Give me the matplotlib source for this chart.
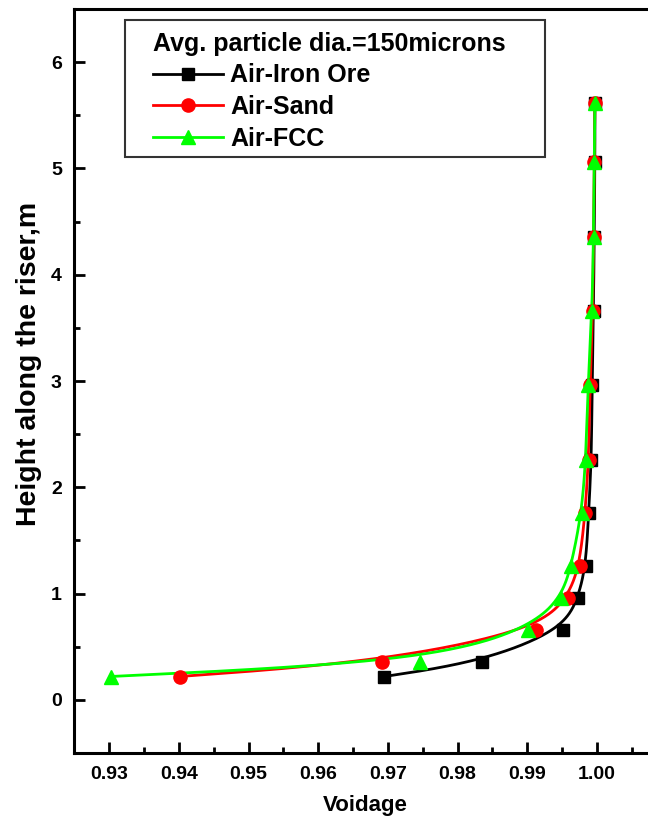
import matplotlib
matplotlib.use("Agg")
import matplotlib.pyplot as plt
from matplotlib.patches import Rectangle
from matplotlib.ticker import MultipleLocator
import numpy as np

plt.rcParams["font.family"] = ["Liberation Sans", "DejaVu Sans"]
plt.rcParams["font.weight"] = "bold"

# Height along the riser (m), shared by all three systems
height = [0.22, 0.36, 0.66, 0.96, 1.26, 1.76, 2.26, 2.96, 3.66, 4.36, 5.06, 5.62]

# Voidage profiles
iron_ore = [0.9695, 0.9835, 0.9951, 0.9973, 0.9984, 0.9988,
            0.9992, 0.9993, 0.9995, 0.9996, 0.9997, 0.9997]
sand = [0.9401, 0.9691, 0.9913, 0.9958, 0.9975, 0.9983,
        0.9988, 0.9990, 0.9994, 0.9995, 0.9996, 0.9997]
fcc = [0.9302, 0.9746, 0.9901, 0.9949, 0.9963, 0.9978,
       0.9984, 0.9987, 0.9993, 0.9995, 0.9996, 0.9997]

series = [
    ("Air-Iron Ore", iron_ore, "black", "s", 8.5),
    ("Air-Sand", sand, "#ff0000", "o", 9.5),
    ("Air-FCC", fcc, "#00ff00", "^", 10),
]


def bspline(xs, ys, n=40):
    """Uniform cubic B-spline through clamped control points."""
    P = np.column_stack([xs, ys])
    P = np.vstack([P[0], P[0], P, P[-1], P[-1]])
    M = np.array([[-1, 3, -3, 1],
                  [3, -6, 3, 0],
                  [-3, 0, 3, 0],
                  [1, 4, 1, 0]]) / 6.0
    t = np.linspace(0, 1, n)
    T = np.column_stack([t ** 3, t ** 2, t, np.ones_like(t)])
    segs = [T @ M @ P[i:i + 4] for i in range(len(P) - 3)]
    curve = np.vstack(segs)
    return curve[:, 0], curve[:, 1]


W, H = 648, 817
fig = plt.figure(figsize=(W / 100, H / 100), dpi=100)
ax = fig.add_axes([0.1147, 0.0783, 0.898, 0.9106])

for label, vals, color, marker, ms in series:
    cx, cy = bspline(vals, height)
    ax.plot(cx, cy, color=color, linewidth=2.0, zorder=2)
    ax.plot(vals, height, linestyle="none", marker=marker, color=color,
            markersize=ms, zorder=3)
    # legend proxy: line with marker
    ax.plot([], [], color=color, linewidth=2.0, marker=marker,
            markersize=ms, label=label)

ax.set_xlim(0.925, 1.0085)
ax.set_ylim(-0.5, 6.5)
ax.xaxis.set_major_locator(MultipleLocator(0.01))
ax.xaxis.set_minor_locator(MultipleLocator(0.005))
ax.yaxis.set_major_locator(MultipleLocator(1))
ax.yaxis.set_minor_locator(MultipleLocator(0.5))
ax.xaxis.set_major_formatter(plt.FormatStrFormatter("%.2f"))

ax.tick_params(which="both", direction="in", width=2.0, top=False, right=False)
ax.tick_params(which="major", length=8, labelsize=14, pad=9)
ax.tick_params(which="minor", length=4)
for s in ax.spines.values():
    s.set_linewidth(2.2)

ax.set_xlabel("Voidage", fontsize=16, fontweight="bold", labelpad=9)
ax.set_ylabel("Height along the riser,m", fontsize=20.5, fontweight="bold")
ax.yaxis.set_label_coords(-0.056, 0.523)

# legend box drawn separately so side padding can be wider than top padding
box = Rectangle((125 / W, 1 - 157 / H), 420 / W, 137 / H,
                transform=fig.transFigure, facecolor="white",
                edgecolor="#333333", linewidth=1.5, zorder=5, clip_on=False)
ax.add_artist(box)
leg = ax.legend(loc="upper left", bbox_to_anchor=(153 / W, 1 - 32 / H),
                bbox_transform=fig.transFigure,
                title="Avg. particle dia.=150microns",
                title_fontproperties={"size": 18, "weight": "bold"},
                prop={"size": 18, "weight": "bold"},
                alignment="left", frameon=False,
                handlelength=2.8, handletextpad=0.3,
                labelspacing=0.3, borderpad=0, borderaxespad=0)
leg.set_zorder(6)

fig.savefig("out.png", dpi=100)
